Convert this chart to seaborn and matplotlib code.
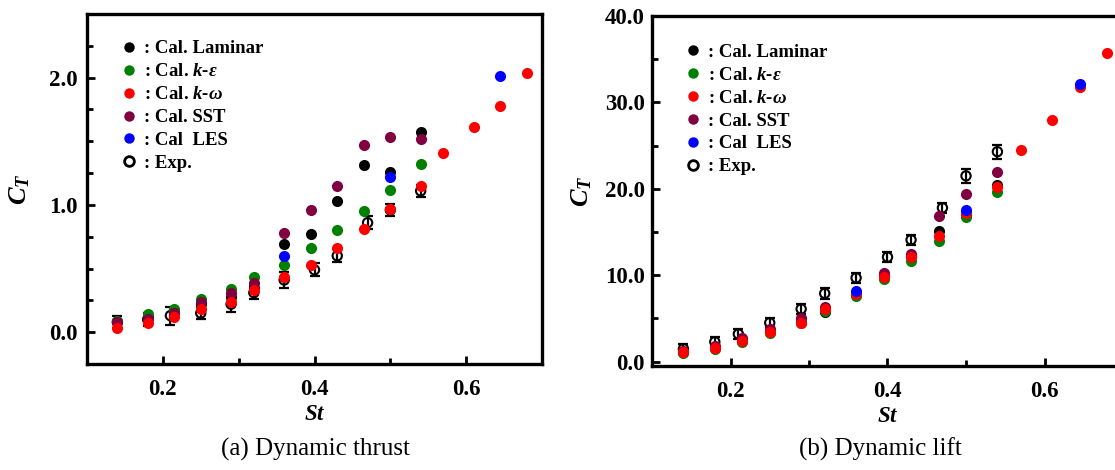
import matplotlib
matplotlib.use('Agg')
import seaborn as sns
import matplotlib.pyplot as plt
from matplotlib.lines import Line2D
from matplotlib.ticker import MultipleLocator, FormatStrFormatter


# Strouhal numbers
st = [0.14, 0.18, 0.215, 0.25, 0.29, 0.32, 0.36, 0.395, 0.43, 0.465, 0.5, 0.54]
st_kw = [0.14, 0.18, 0.215, 0.25, 0.29, 0.32, 0.36, 0.395, 0.43, 0.465, 0.5, 0.54,
         0.57, 0.61, 0.645, 0.68]
st_les = [0.36, 0.5, 0.645]
st_exp = [0.14, 0.18, 0.21, 0.25, 0.29, 0.32, 0.36, 0.40, 0.43, 0.47, 0.50, 0.54]

# (a) Dynamic thrust
thrust_laminar = [0.08, 0.12, 0.16, 0.22, 0.28, 0.35, 0.69, 0.77, 1.03, 1.31, 1.26, 1.57]
thrust_ke = [0.09, 0.14, 0.18, 0.26, 0.34, 0.43, 0.53, 0.66, 0.80, 0.95, 1.12, 1.32]
thrust_kw = [0.03, 0.07, 0.12, 0.18, 0.24, 0.33, 0.43, 0.53, 0.66, 0.81, 0.97, 1.15,
             1.41, 1.61, 1.78, 2.04]
thrust_sst = [0.08, 0.10, 0.15, 0.24, 0.31, 0.39, 0.78, 0.96, 1.15, 1.47, 1.53, 1.52]
thrust_les = [0.60, 1.22, 2.01]
thrust_exp = [0.08, 0.10, 0.13, 0.15, 0.22, 0.31, 0.41, 0.49, 0.60, 0.86, 0.96, 1.11]
thrust_exp_err = [0.05, 0.05, 0.07, 0.05, 0.06, 0.05, 0.06, 0.05, 0.05, 0.05, 0.05, 0.05]

# (b) Dynamic lift
lift_laminar = [1.1, 1.6, 2.4, 3.4, 4.6, 5.7, 7.8, 9.9, 12.2, 15.1, 17.0, 20.4]
lift_ke = [1.0, 1.5, 2.3, 3.3, 4.5, 5.9, 7.6, 9.6, 11.7, 14.0, 16.7, 19.6]
lift_kw = [1.1, 1.6, 2.4, 3.4, 4.5, 6.1, 7.8, 9.8, 12.1, 14.5, 17.2, 20.2,
           24.5, 28.0, 31.8, 35.7]
lift_sst = [1.2, 1.8, 2.7, 3.8, 5.0, 6.3, 7.9, 10.3, 12.5, 16.8, 19.4, 21.9]
lift_les = [8.2, 17.5, 32.1]
lift_exp = [1.5, 2.3, 3.2, 4.5, 6.1, 7.9, 9.7, 12.1, 14.1, 17.8, 21.5, 24.3]
lift_exp_err = [0.6, 0.6, 0.6, 0.5, 0.6, 0.6, 0.6, 0.6, 0.6, 0.6, 0.8, 0.8]

models = ['laminar', 'ke', 'kw', 'sst', 'les']
labels = [': Cal. Laminar', r': Cal. $\mathbfit{k}$-$\mathbfit{ε}$', r': Cal. $\mathbfit{k}$-$\mathbfit{ω}$',
          ': Cal. SST', ': Cal  LES', ': Exp.']
colors = {'laminar': '#000000', 'ke': '#008000', 'kw': '#ff0000', 'sst': '#800040', 'les': '#0000ff'}
draw_order = ['laminar', 'ke', 'sst', 'kw', 'les']

sns.set_style('ticks')
plt.rcParams['font.family'] = ['Liberation Serif', 'DejaVu Serif']
plt.rcParams['font.weight'] = 'bold'
plt.rcParams['axes.edgecolor'] = 'black'
plt.rcParams['xtick.color'] = 'black'
plt.rcParams['ytick.color'] = 'black'
plt.rcParams['text.color'] = 'black'
plt.rcParams['axes.labelcolor'] = 'black'
plt.rcParams['mathtext.fontset'] = 'custom'
plt.rcParams['mathtext.rm'] = 'Liberation Serif:bold'
plt.rcParams['mathtext.it'] = 'Liberation Serif:italic:bold'
plt.rcParams['mathtext.bf'] = 'Liberation Serif:bold'
plt.rcParams['mathtext.bfit'] = 'Liberation Serif:italic:bold'


def draw_panel(ax, series, exp, exp_err, ylim, major, minor, ypad, ylabelpad, legend_anchor):
    # experiment first, so the calculations sit on top
    ax.errorbar(st_exp, exp, yerr=exp_err, fmt='none', ecolor='black', elinewidth=1.6,
                capsize=3.5, capthick=1.6, zorder=2)
    sns.scatterplot(x=st_exp, y=exp, ax=ax, marker='o', s=45, facecolor='none',
                    edgecolor='black', linewidth=1.5, zorder=3, legend=False)
    for name in draw_order:
        x, y = series[name]
        sns.scatterplot(x=x, y=y, ax=ax, color=colors[name], s=64, linewidth=0, zorder=4,
                        legend=False)

    ax.set_xlim(0.1, 0.7)
    ax.set_ylim(*ylim)
    ax.xaxis.set_major_locator(MultipleLocator(0.2))
    ax.xaxis.set_minor_locator(MultipleLocator(0.1))
    ax.xaxis.set_major_formatter(FormatStrFormatter('%.1f'))
    ax.yaxis.set_major_locator(MultipleLocator(major))
    ax.yaxis.set_minor_locator(MultipleLocator(minor))
    ax.yaxis.set_major_formatter(FormatStrFormatter('%.1f'))
    ax.tick_params(which='both', direction='in', width=2, labelsize=16.5)
    ax.tick_params(which='major', length=6)
    ax.tick_params(which='minor', length=4)
    ax.tick_params(axis='x', pad=11)
    ax.tick_params(axis='y', pad=ypad)
    for sp in ax.spines.values():
        sp.set_linewidth(2.4)
        sp.set_visible(True)

    ax.set_xlabel(r'$\mathbfit{St}$', fontsize=16.5, labelpad=3)
    ax.set_ylabel(r'$\mathbfit{C}_{\mathbfit{T}}$', fontsize=19, labelpad=ylabelpad)

    handles = [Line2D([], [], ls='none', marker='o', markersize=7.5, markerfacecolor=colors[m],
                      markeredgewidth=0) for m in models]
    handles.append(Line2D([], [], ls='none', marker='o', markersize=7, markerfacecolor='none',
                          markeredgecolor='black', markeredgewidth=2))
    ax.legend(handles, labels, loc='upper left', bbox_to_anchor=legend_anchor, frameon=False,
              prop={'family': 'Liberation Serif', 'weight': 'bold', 'size': 13.5},
              handlelength=0.6, handletextpad=0.5, labelspacing=0.31, borderpad=0)


fig = plt.figure(figsize=(11.15, 4.7), dpi=100)
ax1 = fig.add_axes([87 / 1115, 106 / 470, 455 / 1115, 350 / 470])
ax2 = fig.add_axes([652 / 1115, 104 / 470, 471 / 1115, 350 / 470])

draw_panel(ax1,
           {'laminar': (st, thrust_laminar), 'ke': (st, thrust_ke), 'kw': (st_kw, thrust_kw),
            'sst': (st, thrust_sst), 'les': (st_les, thrust_les)},
           thrust_exp, thrust_exp_err, (-0.25, 2.5), 1.0, 0.25, 7, 12, (0.06, 0.952))
draw_panel(ax2,
           {'laminar': (st, lift_laminar), 'ke': (st, lift_ke), 'kw': (st_kw, lift_kw),
            'sst': (st, lift_sst), 'les': (st_les, lift_les)},
           lift_exp, lift_exp_err, (-0.5, 40), 10, 5, 5, 8, (0.055, 0.948))

fig.text(315 / 1115, 0.043, '(a) Dynamic thrust', ha='center', va='center', fontsize=18,
         fontweight='normal')
fig.text(880 / 1115, 0.043, '(b) Dynamic lift', ha='center', va='center', fontsize=18,
         fontweight='normal')

fig.savefig('out.png', dpi=100)
